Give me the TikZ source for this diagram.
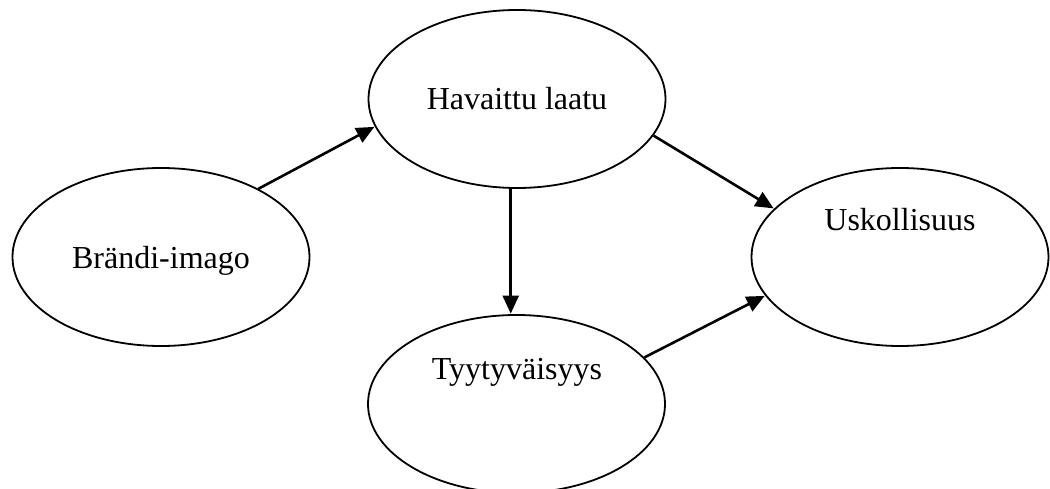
\documentclass[tikz,border=0pt]{standalone}
\usepackage{fontspec}
\setmainfont{Liberation Serif}
\usetikzlibrary{shapes.geometric,arrows.meta}
\begin{document}
\begin{tikzpicture}[x=1pt,y=1pt,
  oval/.style={draw,ellipse,line width=1.8pt,inner sep=0pt,minimum width=297pt,minimum height=178pt},
  lbl/.style={anchor=base,inner sep=0pt,font=\fontsize{32}{38}\selectfont},
  link/.style={line width=2.6pt,-{Triangle[length=18pt,width=16pt]},shorten >=0.5pt}]
\useasboundingbox (0,0) rectangle (1050,488);
\node[oval] (e1) at (161,231) {};
\node[oval] (e2) at (517,389) {};
\node[oval] (e3) at (516.5,84) {};
\node[oval] (e4) at (900,231) {};
\node[lbl] (t1) at (161,219) {Brändi-imago};
\node[lbl] (t2) at (517,378) {Havaittu laatu};
\node[lbl] (t3) at (517,109) {Tyytyväisyys};
\node[lbl] (t4) at (900,257) {Uskollisuus};
\draw[link] (e1.35.4) -- (e2.191.3);
\draw[link] (e2.-15.1) -- (e4.159.8);
\draw[link] (e2.266.8) -- (e2.266.8 |- e3.north);
\draw[link] (e3.20.8) -- (e4.196.2);
\end{tikzpicture}
\end{document}
